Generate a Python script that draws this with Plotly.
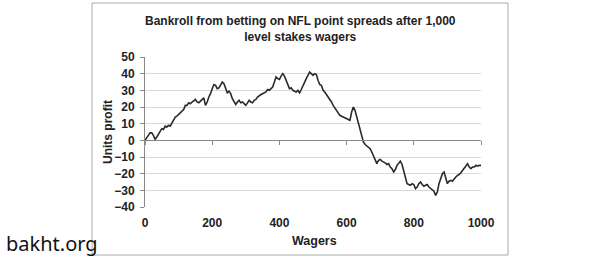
import plotly.graph_objects as go

wagers = list(range(0, 1001, 5))
profit = [0, 2, 3, 4.5, 4.5, 3, 0.5, 2, 4, 5,
          7, 6.5, 8.5, 8, 9, 8.5, 10.5, 12.5, 14, 14.5,
          15.5, 16, 17, 18.5, 21, 21, 22.5, 22, 23, 24,
          24.5, 23, 22.5, 23.5, 24.5, 25.5, 21, 23, 26, 28,
          31, 33.5, 33, 31, 31.5, 33, 35, 34, 31, 28.5,
          29.5, 28, 25, 23, 21.5, 23, 24, 22.5, 23, 22,
          21, 22.5, 24, 23, 22.5, 24, 24.5, 26, 27, 27.5,
          28, 28.5, 29, 30.5, 30, 31, 32, 35, 38, 37,
          36.5, 38.5, 40, 38.5, 36, 33, 31, 31.5, 30, 29.5,
          29, 30, 28.5, 30.5, 33, 35, 37, 39, 41, 40,
          39, 40, 39.5, 36, 33.5, 33, 30, 29, 27.5, 26,
          25, 23, 21, 19.5, 18, 16.5, 15, 14.5, 14, 13.5,
          13, 12.5, 12, 17, 20, 18, 14, 10, 6, 2,
          -1, -2.5, -3.5, -4, -5, -7, -9.5, -12, -14, -12,
          -11.5, -12.5, -13, -13.5, -14.5, -14, -16, -17, -19, -17.5,
          -15, -14, -12.5, -14.5, -18, -22, -26, -26.5, -27, -26,
          -26.5, -29, -28, -26, -25, -26.5, -27.5, -27, -26.5, -28,
          -29, -29.5, -30.5, -33, -31, -26, -23, -20, -19, -23,
          -26, -24.5, -24, -24.5, -23, -22, -21, -20.5, -19.5, -18,
          -17, -15.5, -14, -16, -17, -16, -16, -15, -15.5, -15,
          -15]

x_ticks = [0, 200, 400, 600, 800, 1000]
y_ticks = list(range(-40, 51, 10))

title_text = "Bankroll from betting on NFL point spreads after 1,000<br>level stakes wagers"
x_title = "Wagers"
y_title = "Units profit"
watermark = "bakht.org"

FONT = "Liberation Sans, Arial, sans-serif"

fig = go.Figure()
fig.add_trace(go.Scatter(x=wagers, y=profit, mode="lines",
                         line=dict(color="#2a2a2a", width=1.6),
                         showlegend=False, hoverinfo="skip"))

fig.update_layout(
    width=602, height=258,
    margin=dict(l=145, r=121, t=57, b=51),
    paper_bgcolor="white", plot_bgcolor="white",
    xaxis=dict(range=[0, 1000], tickvals=x_ticks, ticks="", showline=False,
               showgrid=False, zeroline=False, ticklabelstandoff=7,
               tickfont=dict(family=FONT, size=12, color="#222222", weight="bold")),
    xaxis2=dict(range=[0, 1000], tickvals=x_ticks, overlaying="x", anchor="free",
                position=(0 - y_ticks[0]) / (y_ticks[-1] - y_ticks[0]),
                showticklabels=False, ticks="outside", ticklen=4, tickcolor="#888888",
                showline=True, linecolor="#888888", linewidth=1,
                showgrid=False, zeroline=False),
    yaxis=dict(range=[-40, 50], tickvals=y_ticks, ticks="outside", ticklen=4,
               tickcolor="#888888", showline=True, linecolor="#888888", linewidth=1,
               showgrid=True, gridcolor="#d9d9d9", gridwidth=1, zeroline=False,
               ticklabelstandoff=3,
               tickfont=dict(family=FONT, size=12, color="#222222", weight="bold")),
)

fig.add_trace(go.Scatter(x=[0, 1000], y=[None, None], xaxis="x2", mode="lines",
                         showlegend=False, hoverinfo="skip"))

fig.add_annotation(text=title_text, xref="paper", yref="paper",
                   x=(300 - 145) / 336, y=(207 - 29.5) / 150, showarrow=False,
                   xanchor="center", yanchor="middle",
                   font=dict(family=FONT, size=12, color="#222222", weight="bold"),
                   align="center")
fig.add_annotation(text=x_title, xref="paper", yref="paper",
                   x=(314 - 145) / 336, y=(207 - 241) / 150, showarrow=False,
                   xanchor="center", yanchor="middle",
                   font=dict(family=FONT, size=12.5, color="#222222", weight="bold"))
fig.add_annotation(text=y_title, xref="paper", yref="paper", textangle=-90,
                   x=(108 - 145) / 336, y=0.5, showarrow=False,
                   xanchor="center", yanchor="middle",
                   font=dict(family=FONT, size=12, color="#222222", weight="bold"))
fig.add_annotation(text=watermark, xref="paper", yref="paper",
                   x=(4 - 145) / 336, y=(207 - 243) / 150, xanchor="left",
                   yanchor="middle", showarrow=False,
                   font=dict(family="Noto Sans, sans-serif", size=20, color="#111111"))

fig.add_shape(type="rect", xref="paper", yref="paper",
              x0=(92 - 145) / 336, x1=(508 - 145) / 336,
              y0=(207 - 255) / 150, y1=(207 - 3) / 150,
              line=dict(color="#aaaaaa", width=1), layer="below")

fig.write_html("out.html")
